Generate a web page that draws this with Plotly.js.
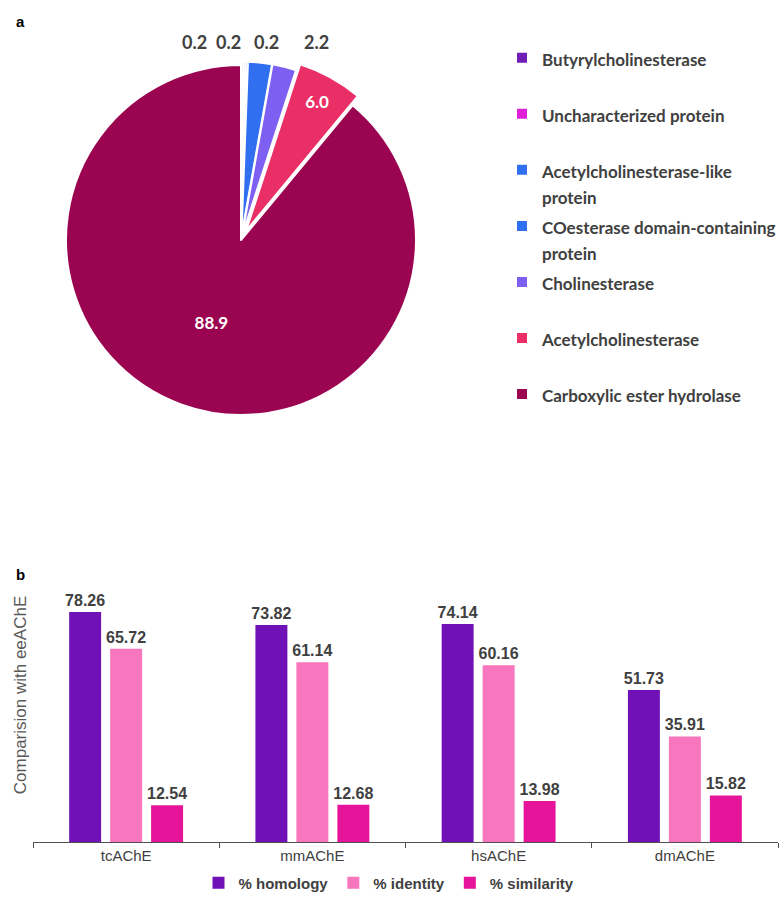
<!DOCTYPE html>
<html>
<head>
<meta charset="utf-8">
<script src="https://cdn.plot.ly/plotly-3.0.1.min.js"></script>
<style>html,body{margin:0;padding:0;background:#fff;}#chart{width:784px;height:904px;}</style>
</head>
<body>
<div id="chart"></div>
<script>
// ---- Panel a: pie data ----
const pieLabels = [
  "Butyrylcholinesterase",
  "Uncharacterized protein",
  "Acetylcholinesterase-like<br>protein",
  "COesterase domain-containing<br>protein",
  "Cholinesterase",
  "Acetylcholinesterase",
  "Carboxylic ester hydrolase"
];
const pieValues = [0.2, 0.2, 0.2, 2.2, 2.2, 6.0, 88.9];
const pieColors = ["#6f1db5", "#e020d8", "#2f6ff0", "#2f6ff0", "#7d5ff2", "#ea2f66", "#9b0450"];
const piePull = [0.02, 0.02, 0.02, 0.02, 0.02, 0.06, 0];
// slices whose value is printed inside the slice; the small ones are labelled above the pie
const pieInsideLabel = [false, false, false, false, false, true, true];
const pieTopLabelIdx = [0, 1, 2, 3];

// ---- Panel b: bar data ----
const barCategories = ["tcAChE", "mmAChE", "hsAChE", "dmAChE"];
const homology = [78.26, 73.82, 74.14, 51.73];
const identity = [65.72, 61.14, 60.16, 35.91];
const similarity = [12.54, 12.68, 13.98, 15.82];
const seriesNames = ["% homology", "% identity", "% similarity"];
const seriesColors = ["#7011b8", "#f776bd", "#e6149b"];

const W = 784, H = 904;

// legend labels: real text at 17px, padded to two lines so every entry has equal height
const legendLabels = pieLabels.map(l => {
  const parts = l.split("<br>");
  while (parts.length < 2) parts.push("\u00a0");
  return parts.map(p => '<span style="font-size:17px">' + p + '</span>').join("<br>");
});

const pie = {
  type: "pie",
  labels: legendLabels,
  values: pieValues,
  sort: false,
  direction: "clockwise",
  rotation: 0,
  pull: piePull,
  marker: {colors: pieColors, line: {color: "#ffffff", width: 2}},
  texttemplate: pieInsideLabel.map(b => b ? "%{value:.1f}" : ""),
  textposition: "inside",
  insidetextorientation: "horizontal",
  insidetextfont: {family: "Lato", size: 17, color: "#ffffff", weight: "bold"},
  domain: {x: [55.5 / W, 426.5 / W], y: [1 - 425.5 / H, 1 - 54.5 / H]},
  legend: "legend",
  hoverinfo: "label+value"
};

const barData = [homology, identity, similarity].map((vals, i) => ({
  type: "bar",
  name: seriesNames[i],
  x: barCategories,
  y: vals,
  marker: {color: seriesColors[i]},
  texttemplate: "%{y:.2f}",
  textposition: "outside",
  constraintext: "none",
  cliponaxis: false,
  textfont: {family: "Arial", size: 16, color: "#404040", weight: "bold"},
  xaxis: "x",
  yaxis: "y",
  legend: "legend2"
}));

// row of value labels for the thin slices, above the pie
const topLabelX = [194, 229, 266, 316];
const pieTopAnnotations = pieTopLabelIdx.map((idx, k) => ({
  text: pieValues[idx].toFixed(1),
  x: topLabelX[k] / W, y: 1 - 42 / H, xref: "paper", yref: "paper",
  xanchor: "center", yanchor: "middle", showarrow: false,
  font: {family: "Lato", size: 18, color: "#404040", weight: "bold"}
}));

const layout = {
  width: W, height: H, autosize: false,
  margin: {l: 0, r: 0, t: 0, b: 0},
  paper_bgcolor: "#ffffff", plot_bgcolor: "#ffffff",
  showlegend: true,
  barmode: "group",
  bargap: 0.34,
  bargroupgap: 0.22,
  xaxis: {
    domain: [33 / W, 778 / W],
    anchor: "y",
    showline: true, linecolor: "#505050", linewidth: 1,
    ticks: "outside", tickson: "boundaries", ticklen: 5, tickcolor: "#505050",
    tickfont: {family: "Arial", size: 15, color: "#404040"},
    showgrid: false, zeroline: false, automargin: false
  },
  yaxis: {
    domain: [(H - 842) / H, (H - 548) / H],
    anchor: "x",
    range: [0, 100],
    showticklabels: false, showgrid: false, zeroline: false, showline: false, ticks: "",
    title: {text: "Comparision with eeAChE", font: {family: "Arial", size: 17, color: "#595959"}, standoff: 1},
    automargin: false
  },
  legend: {
    x: 502 / W, xanchor: "left",
    y: 1 - 38 / H, yanchor: "top",
    orientation: "v",
    valign: "top",
    font: {family: "Lato", size: 20.4, color: "#404040", weight: "bold"},
    bgcolor: "rgba(0,0,0,0)",
    borderwidth: 0
  },
  legend2: {
    orientation: "h",
    x: 389 / W, xanchor: "center",
    y: (H - 883) / H, yanchor: "middle",
    font: {family: "Arial", size: 15, color: "#404040", weight: "bold"},
    bgcolor: "rgba(0,0,0,0)",
    itemclick: false
  },
  annotations: [
    {text: "a", x: 14 / W, y: 1 - 22 / H, xref: "paper", yref: "paper", xanchor: "left", yanchor: "middle", showarrow: false,
     font: {family: "Arial", size: 15, color: "#000000", weight: "bold"}},
    {text: "b", x: 14 / W, y: 1 - 574 / H, xref: "paper", yref: "paper", xanchor: "left", yanchor: "middle", showarrow: false,
     font: {family: "Arial", size: 15, color: "#000000", weight: "bold"}}
  ].concat(pieTopAnnotations)
};

Plotly.newPlot("chart", [pie].concat(barData), layout, {displayModeBar: false, staticPlot: true});
</script>
</body>
</html>
